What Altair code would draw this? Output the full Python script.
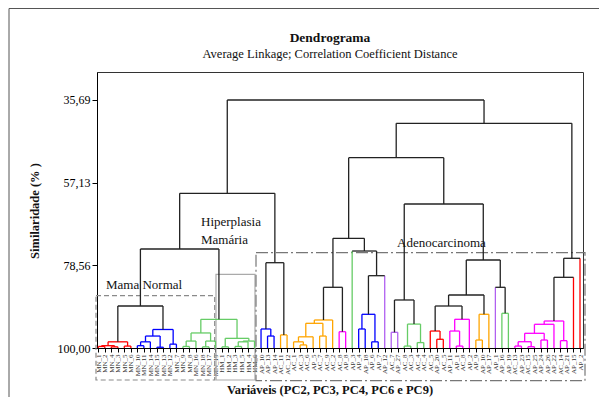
import altair as alt
import pandas as pd

# ---------------- data ----------------
LEAVES = [
    "MN_1", "MN_2", "MN_4", "MN_3", "MN_5", "MN_6",
    "MN_10", "MN_11", "MN_14", "MN_15", "MN_13", "MN_12", "MN_7",
    "MN_9", "MN_8", "MN_16", "MN_18", "MN_17", "MN_19",
    "HM_1", "HM_2", "HM_3", "HM_5", "HM_4", "HM_6",
    "AP_10", "AP_13", "AP_14",
    "AC_11", "AC_12",
    "AC_1", "AC_3", "AC_6", "AP_5", "AC_7", "AC_9", "AC_2",
    "AC_8", "AP_8",
    "AP_3",
    "AP_4", "AP_18", "AP_6", "AP_7",
    "AP_12",
    "AC_7", "AP_27",
    "AC_8", "AC_3", "AC_4", "AC_4",
    "AC_5", "AP_20", "AC_5",
    "AP_11", "AP_1", "AC_8", "AP_2",
    "AP_9", "AP_10", "AP_17",
    "AP_1",
    "AP_16", "AP_19",
    "AC_13", "AP_23", "AC_15", "AP_25", "AP_24", "AP_26", "AP_22", "AC_14", "AP_21",
    "AP_15", "AP_2",
]
GROUP_RUNS = [("red", 6), ("blue", 7), ("green", 12), ("blue", 3), ("orange", 9),
              ("magenta", 2), ("green", 1), ("blue", 4), ("purple", 3), ("green", 4),
              ("red", 3), ("magenta", 4), ("orange", 3), ("purple", 1), ("green", 2),
              ("magenta", 9), ("red", 2)]
COLORS = {"red": "#ff0000", "blue": "#0000ff", "green": "#66cc66", "orange": "#ffa500",
          "magenta": "#ff00ff", "purple": "#b060f0", "black": "#222222"}

# merges: (name, left, right, similarity %); leaves referenced by index
RED_MN = [("r1", 0, 1, 99.6), ("r2", 2, 3, 99.7), ("r3", "r1", "r2", 99.4),
          ("r4", 4, 5, 99.5), ("r5", "r3", "r4", 98.4)]
BLUE_MN = [("b1", 6, 7, 99.4), ("b2", "b1", 8, 98.4), ("b3", 9, 10, 99.8),
           ("b4", "b2", "b3", 96.9), ("b5", 11, 12, 99.0), ("b6", "b4", "b5", 95.2)]
GREEN_MN = [("g1", 13, 14, 99.6), ("g2", "g1", 15, 98.2), ("g3", 16, 17, 99.7),
            ("g4", "g3", 18, 98.2), ("g5", "g2", "g4", 96.1),
            ("h1", 19, 20, 99.7), ("h2", 21, 22, 99.6), ("h3", "h2", 23, 98.4),
            ("h4", "h3", 24, 98.2), ("h5", "h1", "h4", 97.5), ("g6", "g5", "h5", 92.56)]
BLUE_AP = [("ab1", 26, 27, 96.9), ("ab2", 25, "ab1", 95.07)]
ORANGE_A = [("o1", 28, 29, 96.6), ("o2", 31, 32, 99.2), ("o3", 30, "o2", 98.4),
            ("o4", "o3", 33, 97.1), ("o5", 34, 35, 96.9), ("o6", "o4", "o5", 93.6),
            ("o7", "o6", 36, 92.74)]
MAGENTA_A = [("m1", 37, 38, 95.77)]
BLUE_B = [("bl1", 40, 41, 95.07), ("bl2", 42, 43, 98.4), ("bl3", "bl1", "bl2", 91.26)]
PURPLE_A = [("pu1", 45, 46, 95.93)]
GREEN_A = [("gr1", 47, 48, 99.5), ("gr2", 49, 50, 98.6), ("gr3", "gr1", "gr2", 93.8)]
RED_A = [("rd1", 52, 53, 97.74), ("rd2", 51, "rd1", 95.6)]
MAGENTA_B = [("mg1", 55, 56, 99.5), ("mg2", 54, "mg1", 95.6), ("mg3", "mg2", 57, 92.56)]
ORANGE_B = [("or1", 58, 59, 97.93), ("or2", "or1", 60, 91.26)]
GREEN_B = [("gn1", 62, 63, 91.0)]
MAGENTA_C = [("mr1", 64, 65, 99.5), ("mr2", 66, 67, 99.66), ("mr3", "mr1", "mr2", 98.37),
             ("mr4", 68, 69, 97.93), ("mr5", "mr3", "mr4", 96.19), ("mr6", "mr5", 70, 93.85),
             ("mr7", 71, 72, 98.1), ("mr8", "mr6", "mr7", 93.0)]
BLACK = [("mn1", "r5", "b6", 89.11), ("n1", "mn1", "g6", 74.33), ("n2", "ab2", "o1", 77.88),
         ("n3", "n1", "n2", 59.88), ("n4", "o7", "m1", 84.26), ("n5", "bl3", 44, 81.25),
         ("n6", 39, "n5", 74.85), ("n7", "n4", "n6", 71.55), ("n8", "pu1", "gr3", 87.55),
         ("n9", "rd2", "mg3", 89.11), ("n10", "n9", "or2", 86.26), ("n11", 61, "gn1", 84.26),
         ("n12", "n10", "n11", 77.18), ("n13", "n8", "n12", 62.66), ("n14", "n7", "n13", 50.65),
         ("n15", "mr8", 73, 81.67), ("n16", "n15", 74, 76.74), ("n17", "n14", "n16", 41.73),
         ("root", "n3", "n17", 35.69)]
MERGE_SETS = [(RED_MN, "red"), (BLUE_MN, "blue"), (GREEN_MN, "green"), (BLUE_AP, "blue"),
              (ORANGE_A, "orange"), (MAGENTA_A, "magenta"), (BLUE_B, "blue"),
              (PURPLE_A, "purple"), (GREEN_A, "green"), (RED_A, "red"),
              (MAGENTA_B, "magenta"), (ORANGE_B, "orange"), (GREEN_B, "green"),
              (MAGENTA_C, "magenta"), (BLACK, "black")]
Y_TICKS = [35.69, 57.13, 78.56, 100.0]

# ---------------- build segments ----------------
leaf_colors = []
for g, k in GROUP_RUNS:
    leaf_colors += [COLORS[g]] * k
n = len(LEAVES)
nodes = {i: (float(i), 100.0) for i in range(n)}
segs = []
for merges, cname in MERGE_SETS:
    col = COLORS[cname]
    for name, a, b, h in merges:
        xa, ya = nodes[a]
        xb, yb = nodes[b]
        ca = leaf_colors[a] if isinstance(a, int) else col
        cb = leaf_colors[b] if isinstance(b, int) else col
        segs.append(dict(x=xa, x2=xa, y=ya, y2=h, c=ca))
        segs.append(dict(x=xb, x2=xb, y=yb, y2=h, c=cb))
        segs.append(dict(x=xa, x2=xb, y=h, y2=h, c=col))
        nodes[name] = ((xa + xb) / 2, h)
df = pd.DataFrame(segs)

W, H = 486, 276
dx = 481.7 / (n - 1)
xdom = [-1.3 / dx, (n - 1) + 3.0 / dx]
ydom = [28.43, 100.0]

label_arr = "[" + ",".join("'" + s + "'" for s in LEAVES) + "]"
FONT = "Liberation Serif"

xscale = alt.Scale(domain=xdom, nice=False, zero=False)
yscale = alt.Scale(domain=ydom, reverse=True, nice=False, zero=False)

tree = alt.Chart(df).mark_rule(strokeWidth=1.3).encode(
    x=alt.X("x:Q", scale=xscale,
            axis=alt.Axis(values=list(range(n)), labelExpr=label_arr + "[datum.value]",
                          labelAngle=270, labelFontSize=7, labelFont=FONT, labelColor="#333",
                          tickSize=4, tickColor="#000", domainColor="#000", grid=False,
                          labelPadding=2, title=None, labelOverlap=False, labelBound=False)),
    x2="x2:Q",
    y=alt.Y("y:Q", scale=yscale,
            axis=alt.Axis(values=Y_TICKS,
                          labelExpr="replace(format(datum.value, '.2f'), '.', ',')",
                          labelFontSize=12, labelFont=FONT, labelColor="#000",
                          tickSize=5, tickColor="#000", domainColor="#000", grid=False,
                          labelPadding=2, title=None)),
    y2="y2:Q",
    color=alt.Color("c:N", scale=None),
)

def txt(s, x, y, size, bold=False, angle=0, align="center"):
    return alt.Chart(pd.DataFrame({"t": [s]})).mark_text(
        font=FONT, fontSize=size, fontWeight="bold" if bold else "normal",
        angle=angle, align=align, baseline="middle", color="#111"
    ).encode(text="t:N", x=alt.value(x), y=alt.value(y))

def box(x, x2, y, y2, color, dash=None, width=1.2):
    kw = dict(filled=False, stroke=color, strokeWidth=width)
    if dash:
        kw["strokeDash"] = dash
    return alt.Chart(pd.DataFrame({"a": [0]})).mark_rect(**kw).encode(
        x=alt.value(x), x2=alt.value(x2), y=alt.value(y), y2=alt.value(y2))

layers = [
    box(-88, 520, -63.5, 340, "#555", width=1),
    box(-1, 117.7, 223.7, 308, "#8a8a8a", dash=[5, 3]),
    box(119, 158, 202.3, 308, "#aaaaaa"),
    box(159, 488, 180.7, 308.7, "#777777", dash=[12, 3, 2, 3]),
    tree,
    txt("Dendrograma", 233, -34, 13.5, bold=True),
    txt("Average Linkage; Correlation Coefficient Distance", 233, -18, 12.5),
    txt("Variáveis (PC2, PC3, PC4, PC6 e PC9)", 233, 317.5, 12.5, bold=True),
    txt("Similaridade (% )", -62, 139, 12.5, bold=True, angle=270),
    txt("Mama Normal", 9, 213, 13, align="left"),
    txt("Hiperplasia", 104, 150, 13, align="left"),
    txt("Mamária", 104, 168, 13, align="left"),
    txt("Adenocarcinoma", 300, 170.5, 13, align="left"),
]

chart = alt.layer(*layers).properties(
    width=W, height=H, autosize="none",
    padding={"left": 89, "top": 64, "right": 16, "bottom": 49},
    background="white",
).configure_view(stroke="#333", strokeWidth=1)

chart.save("out.html", embed_options={"renderer": "svg", "actions": False})
